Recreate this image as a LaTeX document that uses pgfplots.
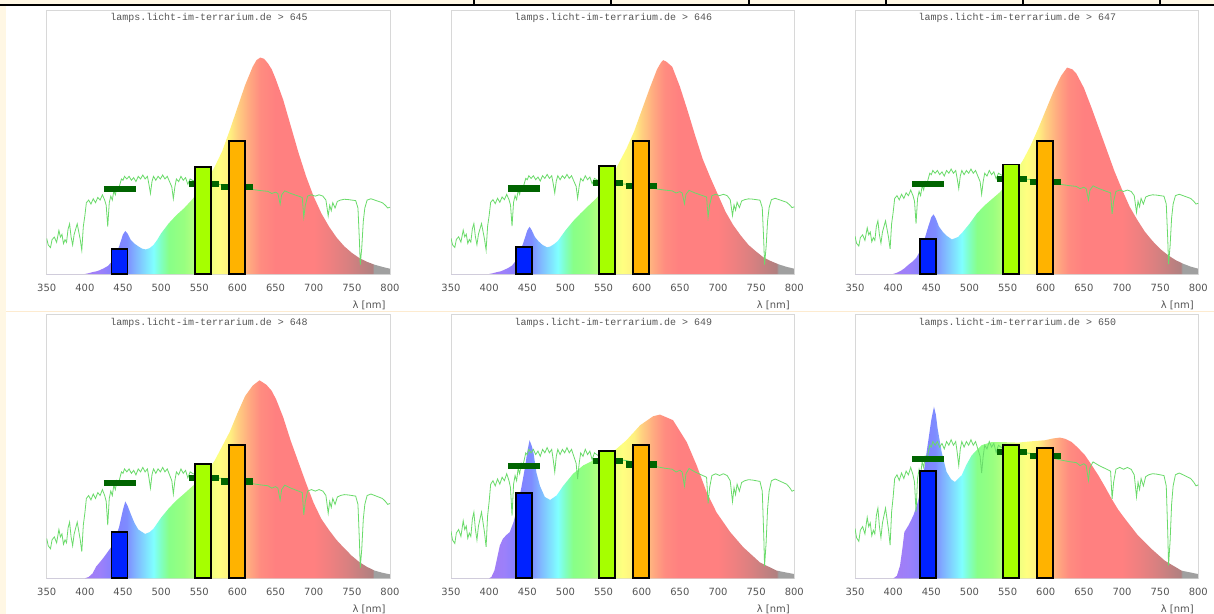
\documentclass[border=0pt]{standalone}
\usepackage{pgfplots}
\pgfplotsset{compat=1.18}
\usepackage{pgfplotstable}
\usepackage{fontspec}
\setmainfont{DejaVu Sans}
\newfontfamily\monofont{Liberation Mono}

\definecolor{c350}{HTML}{9A7AF0}
\definecolor{c400}{HTML}{A47CF4}
\definecolor{c420}{HTML}{9C80FA}
\definecolor{c440}{HTML}{8080FF}
\definecolor{c455}{HTML}{7E8CFF}
\definecolor{c465}{HTML}{80B0FF}
\definecolor{c480}{HTML}{80E0FF}
\definecolor{c490}{HTML}{80FFFF}
\definecolor{c500}{HTML}{80FFC0}
\definecolor{c510}{HTML}{88FF88}
\definecolor{c530}{HTML}{98FF80}
\definecolor{c545}{HTML}{B8FF80}
\definecolor{c560}{HTML}{E8FF80}
\definecolor{c575}{HTML}{FFFF80}
\definecolor{c590}{HTML}{FFF080}
\definecolor{c600}{HTML}{FFD080}
\definecolor{c615}{HTML}{FFAA80}
\definecolor{c630}{HTML}{FF8C80}
\definecolor{c650}{HTML}{FF8080}
\definecolor{c700}{HTML}{FF8080}
\definecolor{c720}{HTML}{F08080}
\definecolor{c745}{HTML}{D88080}
\definecolor{c777}{HTML}{B08080}
\definecolor{c779}{HTML}{A0A0A0}
\definecolor{c800}{HTML}{A0A0A0}

\pgfdeclarehorizontalshading{specshade}{100bp}{color(0bp)=(c350); color(25bp)=(c350); color(30.556bp)=(c400); color(32.778bp)=(c420); color(35bp)=(c440); color(36.667bp)=(c455); color(37.778bp)=(c465); color(39.444bp)=(c480); color(40.556bp)=(c490); color(41.667bp)=(c500); color(42.778bp)=(c510); color(45bp)=(c530); color(46.667bp)=(c545); color(48.333bp)=(c560); color(50bp)=(c575); color(51.667bp)=(c590); color(52.778bp)=(c600); color(54.444bp)=(c615); color(56.111bp)=(c630); color(58.333bp)=(c650); color(63.889bp)=(c700); color(66.111bp)=(c720); color(68.889bp)=(c745); color(72.444bp)=(c777); color(72.667bp)=(c779); color(75bp)=(c800); color(100bp)=(c800)}

\definecolor{sunc}{HTML}{6ADB6A}
\definecolor{mkc}{HTML}{006400}
\definecolor{barb}{HTML}{0022FF}
\definecolor{barg}{HTML}{A6FF00}
\definecolor{baro}{HTML}{FFB300}
\definecolor{boxg}{HTML}{D8D8D8}
\definecolor{lblg}{HTML}{555555}
\definecolor{cream}{HTML}{FFF7E4}
\definecolor{creamline}{HTML}{FDEBD0}

% normalised sunlight reference
\pgfplotstableread{
x y
350 13.5
352 11
355 10
357 13
360 14
363 12
366 16.5
368 14
370 15
372 11.5
374 13
376 12
378 17
380 19
382 14
384 11
386 15
388 17
390 19
392 16
394 13
396 9
398 18
400 22
402 27
405 28
408 26.5
411 28.5
414 27
417 29
420 28
423 30
426 28
428 26
430 18
432 27
434 29.5
436 28
438 31.5
440 30
442 33
444 32
446 34
448 36
450 35.5
452 37
455 36
458 37
461 35.5
464 36.5
467 35
470 37
473 36
476 37.5
479 36
482 37
484 34
486 30.5
488 35
490 37
493 35.5
496 37
499 36
502 37.5
505 36
508 37
511 35
514 33
516 28.5
518 33
520 36
523 35
526 37
529 35.5
532 36.5
535 34
538 36
541 35.5
545 35
550 35.3
560 34.5
570 34
580 33.8
590 33.2
600 33
610 32.5
620 32
630 31.6
640 31.3
645 30.5
650 31
653 30.5
656 26.5
658 30
662 31.5
666 31
670 30.5
675 30
680 29.5
685 29
687 21.5
689 26
692 29.5
697 30
702 29.5
707 30
712 29.5
716 28
719 22
721 26
723 24
725 27
728 25
731 27.5
735 28
740 28.3
745 28.2
750 28
755 27.8
758 25
760 12
761 3.5
763 10
765 20
767 25
770 28
775 28.5
780 28
785 27.5
790 27
794 26
797 25
800 25.3
}\sun

\pgfplotstableread{
x y
350 0
400 0
405 0.3
410 0.7
415 1.0
420 1.5
425 2.2
430 3.0
435 4.5
440 7
445 10.5
450 15
453 16.3
456 15.3
460 13
465 11.5
470 10.5
475 9.6
480 9.3
485 9.8
490 11
495 13
500 15.4
510 19.2
520 22.3
530 24.9
540 28
550 31.5
560 35.5
570 40.5
580 46.5
590 54.5
600 63
610 71.5
620 78.5
625 81
630 82
635 81.5
640 79.8
645 77.5
650 74
660 66
670 56
680 46
690 37
700 29.3
710 23
720 18
730 13.8
740 10.5
750 8
760 6
770 4.6
780 3.5
790 2.7
800 2
}\sA

\pgfplotstableread{
x y
350 0
400 0
405 0.3
410 0.7
415 1.0
420 1.6
425 2.3
430 3.2
435 5
440 8
445 12
450 16.5
453 17.9
456 16.5
460 14
465 12.3
470 11
476 10.1
480 10.4
485 11.3
490 12.5
495 14.5
500 16.5
510 20
520 23
530 25.8
540 28.5
550 32
560 36.5
570 42
580 47.5
590 54
600 62
610 70
620 77.5
625 80
628 81
632 80.5
640 78.5
650 71
660 62
670 52.5
680 43.5
690 36.5
700 30
710 23.5
720 18.5
730 14.5
740 11
750 8.5
760 6.2
770 4.8
780 3.6
790 2.7
800 2
}\sB

\pgfplotstableread{
x y
350 0
400 0
405 0.5
410 1.2
415 2.2
420 3.5
425 4.6
430 6
435 8.5
440 12
445 17
450 21.5
453 22.6
456 21
460 18
465 16
470 14.5
477 13.1
485 14
490 15.5
500 19
510 23
520 26
530 28.5
540 31
550 34.5
560 38.5
570 43
580 48.5
590 55
600 62
610 69
620 75
628 78.2
635 77.5
640 76
650 70.5
660 63
670 55
680 47
690 39
700 32
710 25.5
720 20.5
730 16
740 12.5
750 9.5
760 7.2
770 5.3
780 3.9
790 2.8
800 2
}\sC

\pgfplotstableread{
x y
350 0
400 0
405 0.5
410 1.8
415 4.5
420 6.2
425 8
430 10
435 12
440 15
445 19.5
450 26
453 29.1
456 27.5
460 24.5
465 21
470 18.5
479 16.8
485 17.5
490 18.8
500 23
510 26.5
520 29.5
530 32
540 34.6
550 37.2
560 40.3
570 44.5
580 50
590 55.5
600 62.5
610 69
620 73
629 75
638 73.3
645 71
651 67.6
660 61
670 52
680 44
690 36
700 28.5
710 22.5
720 18.3
730 14.5
740 11.4
750 8.5
760 6.1
770 4.3
780 2.9
790 2.1
800 1.5
}\sD

\pgfplotstableread{
x y
350 0
400 0
403 0.5
407 3
410 7
414 12.4
418 15
423 16.5
427 17.5
432 21.3
437 27
442 34
447 42
450 48
453 52.3
456 50
458 47.8
462 40
466.6 35
473 30.8
480 29.7
488.5 31.4
497 35
510 39.6
523.5 42.8
541 45.3
562 47.8
580 52.3
598 58
615 61.4
624 62
641 59.9
659 51.6
672 42.8
685 32.7
698 25
716 17.5
733 11.8
755 6
777 2.9
800 1.6
}\sE

\pgfplotstableread{
x y
350 0
400 0
402 0.3
405 1
409 4.8
412 11
414.7 17.5
420 20
426.5 23.8
431 27.6
436 33
441 42
446 52
450 60
453.5 65
456 62
458.3 56.7
463.6 47.8
470 40.3
476 37.5
481 36.5
489.8 39
496 43
503 46.6
516 50.4
529 51.6
542 51.6
564 51.4
581.6 51.9
599 52.3
610 53
618.7 53.3
626 52.8
634 51.6
642 49.5
651.5 46.6
660 43
669 39
678 34.5
686.4 30.1
695 26
704 22.5
721 16.2
738.8 11.1
756 6.7
778 2.9
800 1.6
}\sF

\pgfplotsset{
  panel/.style={
    scale only axis, width=343.3bp, height=264bp,
    anchor=north west,
    xmin=350, xmax=800, ymin=0, ymax=100,
    axis line style={draw=boxg, line width=0.8bp},
    xtick={350,400,...,800},
    xticklabels={350,400,450,500,550,600,650,700,750,800},
    ytick=\empty,
    major tick length=0pt,
    tick label style={font=\fontsize{10}{12}\selectfont, text=lblg},
    xticklabel style={anchor=center, yshift=-14bp},
    xlabel={λ [nm]},
    xlabel style={at={(axis description cs:1,0)}, anchor=east, yshift=-31bp, xshift=-1bp, font=\fontsize{10}{12}\selectfont, text=lblg},
    title style={at={(axis description cs:0.473,1)}, anchor=center, yshift=-14.3bp, font=\monofont\fontsize{10}{12}\selectfont, text=lblg},
  },
  specfill/.style={draw=none, shade, shading=specshade},
  sunl/.style={color=sunc, line width=0.8bp},
  sunmk/.style={color=mkc, line width=6.5bp},
  lampbar/.style={draw=black, line width=1.8bp},
}

\begin{document}
\begin{tikzpicture}
\useasboundingbox (0bp,0bp) rectangle (1214bp,-614bp);
\fill[white] (0bp,0bp) rectangle (1214bp,-614bp);
% page decoration
\fill[cream] (0bp,0bp) rectangle (6bp,-614bp);
\fill[cream] (0bp,0bp) rectangle (1214bp,-4bp);
\fill[black] (0bp,-3.6bp) rectangle (1214bp,-5.8bp);
\foreach \sx in {474,611,749,886,1023,1160} {\draw[black, line width=2bp] (\sx bp,0bp) -- (\sx bp,-5bp);}
\draw[creamline, line width=1bp] (6bp,-311bp) -- (1214bp,-311bp);

% ---------- 645 ----------
\begin{axis}[panel, at={(46.7bp,-10bp)}, title={lamps.licht-im-terrarium.de > 645}]
\addplot[specfill] table {\sA} \closedcycle;
\addplot[sunl] table[y expr=\thisrow{y}*1.0] {\sun};
\addplot[sunmk] coordinates {(425,32.2) (467,32.2)};
\addplot[sunmk] coordinates {(536,34.1) (576,34.1)};
\addplot[sunmk] coordinates {(579,33.0) (620,33.0)};
\addplot[lampbar, fill=barb] coordinates {(435,9.5) (456,9.5)} \closedcycle;
\addplot[lampbar, fill=barg] coordinates {(544,40.4) (565,40.4)} \closedcycle;
\addplot[lampbar, fill=baro] coordinates {(589,50.3) (610,50.3)} \closedcycle;
\end{axis}

% ---------- 646 ----------
\begin{axis}[panel, at={(451bp,-10bp)}, title={lamps.licht-im-terrarium.de > 646}]
\addplot[specfill] table {\sB} \closedcycle;
\addplot[sunl] table[y expr=\thisrow{y}*1.006] {\sun};
\addplot[sunmk] coordinates {(425,32.4) (467,32.4)};
\addplot[sunmk] coordinates {(536,34.5) (576,34.5)};
\addplot[sunmk] coordinates {(579,33.3) (620,33.3)};
\addplot[lampbar, fill=barb] coordinates {(435,10.1) (456,10.1)} \closedcycle;
\addplot[lampbar, fill=barg] coordinates {(544,40.9) (565,40.9)} \closedcycle;
\addplot[lampbar, fill=baro] coordinates {(589,50.3) (610,50.3)} \closedcycle;
\end{axis}

% ---------- 647 ----------
\begin{axis}[panel, at={(855bp,-10bp)}, title={lamps.licht-im-terrarium.de > 647}]
\addplot[specfill] table {\sC} \closedcycle;
\addplot[sunl] table[y expr=\thisrow{y}*1.06] {\sun};
\addplot[sunmk] coordinates {(425,34.1) (467,34.1)};
\addplot[sunmk] coordinates {(536,36.0) (576,36.0)};
\addplot[sunmk] coordinates {(579,34.8) (620,34.8)};
\addplot[lampbar, fill=barb] coordinates {(435,13.3) (456,13.3)} \closedcycle;
\addplot[lampbar, fill=barg] coordinates {(544,41.5) (565,41.5)} \closedcycle;
\addplot[lampbar, fill=baro] coordinates {(589,50.4) (610,50.4)} \closedcycle;
\end{axis}

% ---------- 648 ----------
\begin{axis}[panel, at={(46.7bp,-314.3bp)}, title={lamps.licht-im-terrarium.de > 648}]
\addplot[specfill] table {\sD} \closedcycle;
\addplot[sunl] table[y expr=\thisrow{y}*1.12] {\sun};
\addplot[sunmk] coordinates {(425,36.1) (467,36.1)};
\addplot[sunmk] coordinates {(536,38.0) (576,38.0)};
\addplot[sunmk] coordinates {(579,36.7) (620,36.7)};
\addplot[lampbar, fill=barb] coordinates {(435,17.4) (456,17.4)} \closedcycle;
\addplot[lampbar, fill=barg] coordinates {(544,43.2) (565,43.2)} \closedcycle;
\addplot[lampbar, fill=baro] coordinates {(589,50.6) (610,50.6)} \closedcycle;
\end{axis}

% ---------- 649 ----------
\begin{axis}[panel, at={(451bp,-314.3bp)}, title={lamps.licht-im-terrarium.de > 649}]
\addplot[specfill] table {\sE} \closedcycle;
\addplot[sunl] table[y expr=\thisrow{y}*1.32] {\sun};
\addplot[sunmk] coordinates {(425,42.5) (467,42.5)};
\addplot[sunmk] coordinates {(536,44.4) (576,44.4)};
\addplot[sunmk] coordinates {(579,43.2) (620,43.2)};
\addplot[lampbar, fill=barb] coordinates {(435,32.3) (456,32.3)} \closedcycle;
\addplot[lampbar, fill=barg] coordinates {(544,48.1) (565,48.1)} \closedcycle;
\addplot[lampbar, fill=baro] coordinates {(589,50.4) (610,50.4)} \closedcycle;
\end{axis}

% ---------- 650 ----------
\begin{axis}[panel, at={(855bp,-314.3bp)}, title={lamps.licht-im-terrarium.de > 650}]
\addplot[specfill] table {\sF} \closedcycle;
\addplot[sunl] table[y expr=\thisrow{y}*1.40] {\sun};
\addplot[sunmk] coordinates {(425,45.2) (467,45.2)};
\addplot[sunmk] coordinates {(536,47.8) (576,47.8)};
\addplot[sunmk] coordinates {(579,46.3) (620,46.3)};
\addplot[lampbar, fill=barb] coordinates {(435,40.6) (456,40.6)} \closedcycle;
\addplot[lampbar, fill=barg] coordinates {(544,50.4) (565,50.4)} \closedcycle;
\addplot[lampbar, fill=baro] coordinates {(589,49.4) (610,49.4)} \closedcycle;
\end{axis}
\end{tikzpicture}
\end{document}
